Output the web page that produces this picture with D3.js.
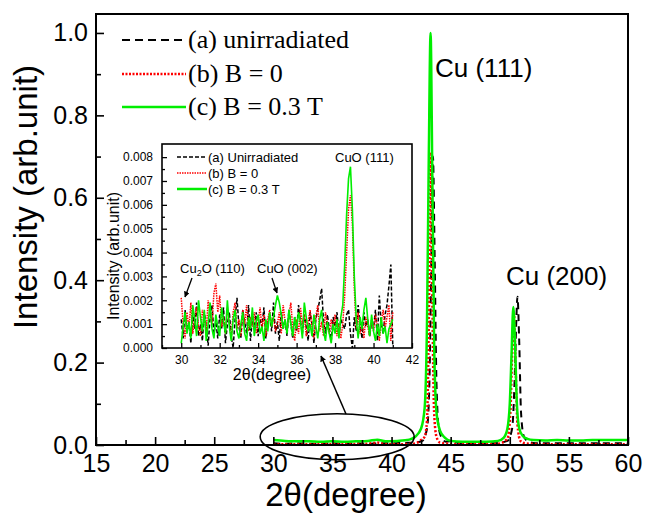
<!DOCTYPE html>
<html>
<head>
<meta charset="utf-8">
<script src="https://cdn.jsdelivr.net/npm/d3@7"></script>
<style>
  body { margin: 0; background: #fff; }
  svg { display: block; }
  .sans { font-family: "Liberation Sans", Arial, sans-serif; }
  .serif { font-family: "Liberation Serif", "Times New Roman", serif; }
</style>
</head>
<body>
<svg width="645" height="516"></svg>
<script>
// main pattern, [2theta, intensity]
var seriesA = [[30,0.004],[31,0.003],[32,0.004],[33,0.003],[34,0.003],[35,0.004],[36,0.003],[37,0.004],[38,0.003],[39,0.004],[40,0.004],[41,0.005],[42,0.006],[42.6,0.01],[43.0,0.04],[43.2,0.15],[43.35,0.42],[43.5,0.70],[43.65,0.45],[43.8,0.15],[44.0,0.04],[44.3,0.015],[44.6,0.008],[45.2,0.01],[45.6,0.005],[46,0.004],[47,0.004],[48,0.004],[49,0.005],[49.8,0.01],[50.2,0.04],[50.4,0.15],[50.55,0.30],[50.65,0.36],[50.8,0.25],[50.95,0.08],[51.2,0.02],[51.6,0.008],[52,0.005],[53,0.004],[55,0.004],[57,0.004],[60,0.004]];
var seriesB = [[30,0.002],[32,0.002],[34,0.002],[36,0.002],[38,0.003],[38.8,0.006],[39.5,0.002],[41,0.002],[42,0.004],[42.5,0.012],[42.8,0.02],[43.0,0.06],[43.15,0.30],[43.3,0.71],[43.45,0.35],[43.6,0.08],[43.8,0.02],[44.1,0.006],[45,0.003],[47,0.002],[49,0.003],[49.8,0.015],[50.05,0.08],[50.2,0.22],[50.35,0.32],[50.5,0.18],[50.65,0.05],[50.9,0.01],[51.3,0.004],[53,0.002],[56,0.002],[60,0.002]];
var seriesC = [[30,0.012],[31,0.010],[32,0.009],[33,0.009],[34,0.008],[35,0.009],[36,0.008],[37,0.009],[38,0.010],[38.8,0.013],[39.5,0.009],[40.5,0.010],[41.5,0.013],[42.0,0.02],[42.5,0.04],[42.8,0.09],[43.0,0.30],[43.15,0.70],[43.3,1.00],[43.45,0.65],[43.6,0.25],[43.8,0.08],[44.1,0.035],[44.5,0.018],[45,0.010],[46,0.008],[47,0.008],[48,0.008],[49,0.010],[49.5,0.018],[49.8,0.04],[50.0,0.10],[50.15,0.22],[50.3,0.335],[50.45,0.24],[50.6,0.10],[50.8,0.04],[51.1,0.022],[51.5,0.015],[52,0.012],[53,0.011],[54,0.012],[55,0.011],[56,0.011],[57,0.012],[58,0.012],[59,0.012],[60,0.012]];

// inset, 30.0 .. 41.0 every 0.1 degree, values in 1e-3
var insetStart = 30, insetStep = 0.1;
var insetA = [1.2,0.4,1.6,0.7,1.1,0.2,1.4,0.8,1.9,0.5,
  1.0,0.3,1.5,0.9,0.1,1.3,1.8,0.6,1.1,0.4,
  1.4,0.8,1.7,0.2,1.0,1.5,0.5,0.0,1.2,2.1,
  0.9,0.4,1.6,1.1,0.6,1.8,0.3,1.3,0.8,1.5,
  0.5,1.2,0.9,1.7,0.4,1.0,1.4,0.7,1.9,0.6,
  1.1,0.3,1.5,0.8,1.2,0.5,1.6,1.0,0.4,1.3,
  0.7,1.8,1.1,0.6,1.4,0.9,0.3,1.5,1.0,0.2,
  1.2,1.6,2.0,2.5,1.1,0.6,1.4,0.8,0.3,1.3,
  0.9,1.5,0.5,1.2,1.0,0.8,1.4,1.6,0.6,0.0,
  1.3,0.7,1.8,1.0,0.4,1.5,0.9,1.2,0.5,1.1,
  0.8,1.6,0.3,2.2,1.0,0.6,1.4,1.8,2.6,3.5,
  0.1];
var insetB = [2.1,1.0,0.4,1.5,0.8,1.9,0.6,1.3,1.7,0.9,
  0.5,1.6,1.2,0.7,2.0,1.4,1.0,2.3,2.7,1.5,
  2.2,0.9,1.3,0.6,1.7,1.1,0.4,1.5,1.9,0.8,
  1.2,0.5,1.6,1.0,1.8,0.7,1.3,0.9,1.5,0.6,
  1.1,1.7,0.8,1.4,0.5,1.2,1.6,0.9,1.3,0.7,
  1.0,1.5,0.6,1.8,1.1,0.7,1.4,1.9,0.8,0.3,
  1.2,0.6,1.7,1.0,1.4,0.5,1.1,1.6,0.9,0.4,
  1.3,1.8,0.7,1.1,0.5,1.5,1.0,0.6,1.2,0.8,
  1.4,0.5,1.0,0.4,1.0,2.2,4.0,5.8,6.4,5.2,
  2.5,0.8,1.5,0.6,1.1,0.4,1.3,0.9,0.5,1.2,
  0.7,1.4,0.9,0.3,1.1,1.6,0.8,1.3,1.8,0.3,
  1.5];
var insetC = [0.2,0.9,1.5,0.6,1.1,0.4,1.8,1.2,0.5,2.0,
  1.3,0.7,1.6,0.3,1.0,1.9,0.8,0.4,1.4,0.9,
  0.5,1.7,1.1,0.6,2.0,0.9,0.3,1.2,1.6,0.7,
  0.4,1.0,1.5,0.6,0.3,1.3,0.8,1.7,0.5,1.1,
  1.4,0.6,0.9,0.3,1.2,0.7,1.5,0.9,1.3,1.8,
  2.2,1.9,1.4,0.8,1.2,0.6,1.6,1.0,0.5,1.3,
  0.8,1.5,1.1,0.4,1.9,1.3,0.7,1.0,0.5,1.4,
  0.9,0.4,1.2,1.6,0.7,0.3,1.1,0.6,0.2,1.0,
  0.6,1.2,0.4,1.3,1.8,3.5,5.6,7.1,7.6,5.8,
  3.0,1.2,0.4,1.3,0.8,1.6,2.1,1.2,0.5,1.4,
  0.7,0.3,1.0,0.5,1.3,0.6,0.9,0.2,0.8,1.0,
  1.2];

var mainXTicks = [15,20,25,30,35,40,45,50,55,60];
var mainYTicks = [0,0.2,0.4,0.6,0.8,1.0];
var insetXTicks = [30,32,34,36,38,40,42];
var insetYTicks = [0,0.001,0.002,0.003,0.004,0.005,0.006,0.007,0.008];
var legendLabels = ["(a) unirradiated", "(b) B = 0", "(c) B = 0.3 T"];
var insetLegendLabels = ["(a) Unirradiated", "(b) B = 0", "(c) B = 0.3 T"];

var colors = ["#000", "#ff0000", "#00ee00"];

var svg = d3.select("svg");
var pL = 96, pR = 628, pT = 14, pB = 445;

var x = d3.scaleLinear().domain([15, 60]).range([pL, pR]);
var y = d3.scaleLinear().domain([0, 1.046]).range([pB, pT]);

var mainLine = d3.line()
    .x(function(d) { return x(d[0]); })
    .y(function(d) { return y(d[1]); })
    .curve(d3.curveMonotoneX);

// main curves
var mainStyles = [
    {w: 2, dash: "7,5"},
    {w: 2.5, dash: "2,2"},
    {w: 2.5, dash: null}
];
[seriesA, seriesB, seriesC].forEach(function(s, i) {
    svg.append("path")
        .attr("d", mainLine(s))
        .attr("fill", "none")
        .attr("stroke", colors[i])
        .attr("stroke-width", mainStyles[i].w)
        .attr("stroke-dasharray", mainStyles[i].dash);
});

// main axes
function styleAxis(g) {
    g.select(".domain").remove();
    g.selectAll("line").attr("stroke", "#000").attr("stroke-width", 1.6);
}
svg.append("g")
    .attr("transform", "translate(0," + pB + ")")
    .call(d3.axisBottom(x).tickValues(d3.range(17.5, 60, 5)).tickSize(-5).tickFormat(""))
    .call(styleAxis);
svg.append("g")
    .attr("class", "sans")
    .attr("transform", "translate(0," + pB + ")")
    .call(d3.axisBottom(x).tickValues(mainXTicks).tickSize(-8).tickPadding(9))
    .call(styleAxis)
    .selectAll("text").attr("font-size", 25).attr("fill", "#000");
svg.append("g")
    .attr("transform", "translate(" + pL + ",0)")
    .call(d3.axisLeft(y).tickValues([0.1,0.3,0.5,0.7,0.9]).tickSize(-5).tickFormat(""))
    .call(styleAxis);
svg.append("g")
    .attr("class", "sans")
    .attr("transform", "translate(" + pL + ",0)")
    .call(d3.axisLeft(y).tickValues(mainYTicks).tickSize(-8).tickPadding(8).tickFormat(d3.format(".1f")))
    .call(styleAxis)
    .selectAll("text").attr("font-size", 25).attr("fill", "#000");

svg.append("rect")
    .attr("x", pL).attr("y", pT)
    .attr("width", pR - pL).attr("height", pB - pT)
    .attr("fill", "none").attr("stroke", "#000").attr("stroke-width", 2);

svg.append("text")
    .attr("class", "sans")
    .attr("transform", "translate(37,197) rotate(-90)")
    .attr("text-anchor", "middle")
    .attr("font-size", 33)
    .text("Intensity (arb.unit)");
svg.append("text")
    .attr("class", "sans")
    .attr("x", 346).attr("y", 506)
    .attr("text-anchor", "middle")
    .attr("font-size", 33)
    .text("2θ(degree)");

// main legend
var legendY = [40, 74, 107];
legendLabels.forEach(function(t, i) {
    svg.append("line")
        .attr("x1", 122).attr("x2", 186)
        .attr("y1", legendY[i]).attr("y2", legendY[i])
        .attr("stroke", colors[i])
        .attr("stroke-width", i == 0 ? 2 : 2.5)
        .attr("stroke-dasharray", [ "8,5", "2,1.5", null ][i]);
    svg.append("text")
        .attr("class", "serif")
        .attr("x", 188).attr("y", legendY[i] + 8)
        .attr("font-size", 26)
        .text(t);
});

svg.append("text").attr("class", "sans")
    .attr("x", 435).attr("y", 77).attr("font-size", 26).text("Cu (111)");
svg.append("text").attr("class", "sans")
    .attr("x", 506).attr("y", 285).attr("font-size", 26).text("Cu (200)");

// marker for arrows
svg.append("defs").append("marker")
    .attr("id", "head")
    .attr("viewBox", "0 0 10 10")
    .attr("refX", 9).attr("refY", 5)
    .attr("markerWidth", 6).attr("markerHeight", 6)
    .attr("markerUnits", "userSpaceOnUse")
    .attr("orient", "auto")
  .append("path")
    .attr("d", "M0,0L10,5L0,10z")
    .attr("fill", "#000");

// ellipse around the low-angle region
svg.append("ellipse")
    .attr("cx", x(35.4)).attr("cy", y(0.02))
    .attr("rx", 77).attr("ry", 23)
    .attr("fill", "none").attr("stroke", "#000").attr("stroke-width", 1.6);
svg.append("line")
    .attr("x1", 346).attr("y1", 414).attr("x2", 321).attr("y2", 356)
    .attr("stroke", "#000").attr("stroke-width", 1.5)
    .attr("marker-end", "url(#head)");

// ---- inset ----
var iL = 162, iR = 412, iT = 144, iB = 348;
var ix = d3.scaleLinear().domain([29, 42]).range([iL, iR]);
var iy = d3.scaleLinear().domain([0, 0.00855]).range([iB, iT]);

var insetLine = d3.line()
    .x(function(d, i) { return ix(insetStart + i * insetStep); })
    .y(function(d) { return iy(d / 1000); });

var insetStyles = [
    {w: 1.5, dash: "4,2"},
    {w: 1.5, dash: "1.5,1"},
    {w: 1.6, dash: null}
];
[insetA, insetB, insetC].forEach(function(s, i) {
    svg.append("path")
        .attr("d", insetLine(s))
        .attr("fill", "none")
        .attr("stroke", colors[i])
        .attr("stroke-width", insetStyles[i].w)
        .attr("stroke-dasharray", insetStyles[i].dash);
});

svg.append("g")
    .attr("class", "inset-axis")
    .attr("transform", "translate(0," + iB + ")")
    .call(d3.axisBottom(ix).tickValues(d3.range(29, 42, 2)).tickSize(-3).tickFormat(""))
    .call(styleAxis);
svg.append("g")
    .attr("class", "sans inset-axis")
    .attr("transform", "translate(0," + iB + ")")
    .call(d3.axisBottom(ix).tickValues(insetXTicks).tickSize(-5).tickPadding(7))
    .call(styleAxis)
    .selectAll("text").attr("font-size", 12).attr("fill", "#000");
svg.append("g")
    .attr("class", "inset-axis")
    .attr("transform", "translate(" + iL + ",0)")
    .call(d3.axisLeft(iy).tickValues(d3.range(0.0005, 0.0085, 0.001)).tickSize(-3).tickFormat(""))
    .call(styleAxis);
svg.append("g")
    .attr("class", "sans inset-axis")
    .attr("transform", "translate(" + iL + ",0)")
    .call(d3.axisLeft(iy).tickValues(insetYTicks).tickSize(-5).tickPadding(9).tickFormat(d3.format(".3f")))
    .call(styleAxis)
    .selectAll("text").attr("font-size", 12).attr("fill", "#000");
svg.selectAll(".inset-axis line").attr("stroke-width", 1.3);

svg.append("rect")
    .attr("x", iL).attr("y", iT)
    .attr("width", iR - iL).attr("height", iB - iT)
    .attr("fill", "none").attr("stroke", "#000").attr("stroke-width", 1.6);

svg.append("text")
    .attr("class", "sans")
    .attr("transform", "translate(118.5,256) rotate(-90)")
    .attr("text-anchor", "middle")
    .attr("font-size", 16)
    .text("Intensity (arb.unit)");
svg.append("text")
    .attr("class", "sans")
    .attr("x", 272).attr("y", 380)
    .attr("text-anchor", "middle")
    .attr("font-size", 16)
    .text("2θ(degree)");

var insetLegendY = [157, 173, 189];
insetLegendLabels.forEach(function(t, i) {
    svg.append("line")
        .attr("x1", 177).attr("x2", 207)
        .attr("y1", insetLegendY[i]).attr("y2", insetLegendY[i])
        .attr("stroke", colors[i])
        .attr("stroke-width", i == 2 ? 2.5 : 1.6)
        .attr("stroke-dasharray", [ "4,2", "1.5,1", null ][i]);
    svg.append("text")
        .attr("class", "sans")
        .attr("x", 208).attr("y", insetLegendY[i] + 4.5)
        .attr("font-size", 13)
        .text(t);
});

svg.append("text").attr("class", "sans")
    .attr("x", 335).attr("y", 162).attr("font-size", 13).text("CuO (111)");
var cu2o = svg.append("text").attr("class", "sans")
    .attr("x", 180).attr("y", 273).attr("font-size", 13);
cu2o.append("tspan").text("Cu");
cu2o.append("tspan").attr("font-size", 9).attr("dy", 3).text("2");
cu2o.append("tspan").attr("dy", -3).text("O (110)");
svg.append("text").attr("class", "sans")
    .attr("x", 257).attr("y", 273).attr("font-size", 13).text("CuO (002)");

svg.append("line")
    .attr("x1", 192).attr("y1", 278).attr("x2", 185).attr("y2", 297)
    .attr("stroke", "#000").attr("stroke-width", 1.3)
    .attr("marker-end", "url(#head)");
svg.append("line")
    .attr("x1", 272).attr("y1", 278).attr("x2", 277).attr("y2", 293)
    .attr("stroke", "#000").attr("stroke-width", 1.3)
    .attr("marker-end", "url(#head)");
</script>
</body>
</html>
